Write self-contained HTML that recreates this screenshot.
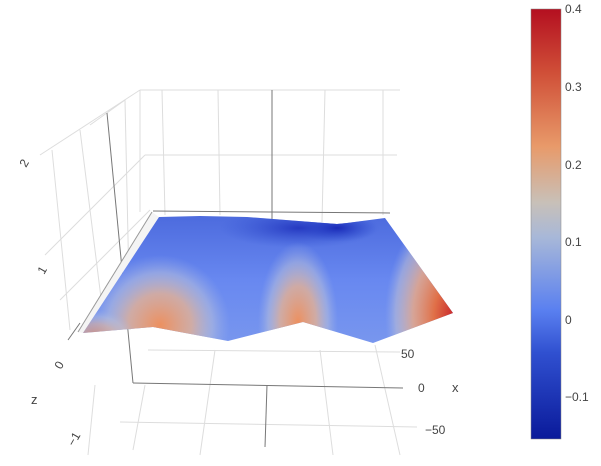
<!DOCTYPE html>
<html><head><style>
body{margin:0;background:#fff;width:601px;height:461px;overflow:hidden}
text{font-family:"Liberation Sans",sans-serif;font-size:12px;fill:#444}
</style></head><body>
<svg width="601" height="461" viewBox="0 0 601 461">
<defs>
<linearGradient id="cb" x1="0" y1="1" x2="0" y2="0">
<stop offset="0" stop-color="#0a1a9a"/>
<stop offset="0.2" stop-color="#3050d0"/>
<stop offset="0.3" stop-color="#5a80f0"/>
<stop offset="0.47" stop-color="#a8b8d8"/>
<stop offset="0.55" stop-color="#c8c0b8"/>
<stop offset="0.68" stop-color="#e89a6a"/>
<stop offset="0.85" stop-color="#d05038"/>
<stop offset="1" stop-color="#b40f20"/>
</linearGradient>
<clipPath id="surf"><polygon points="159,217 200,216 247,217 273,219 337,224 347,223 385,218 453,313 373,343 303,322 228,341 153,327 83,333"/></clipPath>
<linearGradient id="base" x1="0" y1="0" x2="0" y2="1">
<stop offset="0" stop-color="#4a68dc"/><stop offset="0.5" stop-color="#6888f0"/><stop offset="1" stop-color="#7a98ee"/>
</linearGradient>
<radialGradient id="o1" cx="0.5" cy="0.5" r="0.5"><stop offset="0" stop-color="#ec9060"/><stop offset="0.45" stop-color="#e0b098" stop-opacity="0.85"/><stop offset="0.75" stop-color="#c0c4d8" stop-opacity="0.5"/><stop offset="1" stop-color="#a0b4e8" stop-opacity="0"/></radialGradient>
<radialGradient id="o2" cx="0.5" cy="0.5" r="0.5"><stop offset="0" stop-color="#c8242a"/><stop offset="0.3" stop-color="#e07048"/><stop offset="0.6" stop-color="#e8a888" stop-opacity="0.85"/><stop offset="0.85" stop-color="#c8c4d0" stop-opacity="0.5"/><stop offset="1" stop-color="#a0b4e8" stop-opacity="0"/></radialGradient>
<radialGradient id="b1" cx="0.5" cy="0.5" r="0.5"><stop offset="0" stop-color="#1a2ab8"/><stop offset="1" stop-color="#3050d0" stop-opacity="0"/></radialGradient>
</defs>
<g stroke="#ddd" stroke-width="1" fill="none">
<line x1="140" y1="90" x2="400" y2="90"/><line x1="145" y1="155" x2="397" y2="155"/>
<line x1="140" y1="90" x2="40" y2="155"/><line x1="125" y1="100" x2="90" y2="125"/>
<line x1="145" y1="155" x2="45" y2="255"/><line x1="150" y1="210" x2="60" y2="300"/>
<line x1="162" y1="90" x2="165" y2="215"/><line x1="218" y1="90" x2="220" y2="215"/>
<line x1="325" y1="90" x2="322" y2="222"/><line x1="383" y1="90" x2="383" y2="215"/>
<line x1="140" y1="90" x2="140" y2="212"/>
<line x1="52" y1="150" x2="70" y2="330"/><line x1="80" y1="130" x2="105" y2="330"/><line x1="125" y1="100" x2="130" y2="330"/>
<line x1="148" y1="350" x2="400" y2="352"/><line x1="120" y1="422" x2="417" y2="427"/>
<line x1="145" y1="385" x2="133" y2="450"/><line x1="215" y1="350" x2="200" y2="455"/>
<line x1="320" y1="350" x2="333" y2="455"/><line x1="375" y1="345" x2="400" y2="455"/>
<line x1="95" y1="385" x2="88" y2="455"/>
</g>
<g stroke="#777" stroke-width="1" fill="none">
<line x1="272" y1="90" x2="272" y2="219"/><line x1="107" y1="113" x2="133" y2="383"/>
<line x1="133" y1="383" x2="403" y2="388"/><line x1="267" y1="385" x2="265" y2="447"/>
<line x1="153" y1="211" x2="390" y2="213"/><line x1="80" y1="323" x2="68" y2="340"/>
</g>
<polygon points="152,212 159,217 83,333 78,332" fill="#f4f4f4"/>
<line x1="152" y1="212" x2="78" y2="332" stroke="#999"/>
<g clip-path="url(#surf)">
<rect x="80" y="210" width="380" height="140" fill="url(#base)"/>
<ellipse cx="300" cy="228" rx="80" ry="20" fill="url(#b1)" opacity="0.8"/>
<ellipse cx="337" cy="228" rx="40" ry="14" fill="url(#b1)"/>
<ellipse cx="298" cy="322" rx="40" ry="80" fill="url(#o1)"/>
<ellipse cx="160" cy="325" rx="70" ry="70" fill="url(#o1)" transform="rotate(-30 160 325)"/>
<ellipse cx="95" cy="335" rx="40" ry="25" fill="url(#o1)" opacity="0.7"/>
<ellipse cx="455" cy="315" rx="70" ry="110" fill="url(#o2)"/>
</g>
<rect x="531" y="9" width="30" height="430" fill="url(#cb)" stroke="#888" stroke-width="0.5"/>
<text x="565" y="13">0.4</text><text x="565" y="91">0.3</text><text x="565" y="169">0.2</text>
<text x="565" y="246">0.1</text><text x="565" y="324">0</text><text x="565" y="401">−0.1</text>
<text x="401" y="358">50</text><text x="418" y="392">0</text><text x="425" y="434">−50</text>
<text x="452" y="392" style="font-size:13px">x</text>
<text x="31" y="404" style="font-size:13px">z</text>
<text transform="translate(26,168) rotate(-60)">2</text>
<text transform="translate(44,275) rotate(-60)">1</text>
<text transform="translate(61,370) rotate(-60)">0</text>
<text transform="translate(74,447) rotate(-60)">−1</text>
</svg>
</body></html>
